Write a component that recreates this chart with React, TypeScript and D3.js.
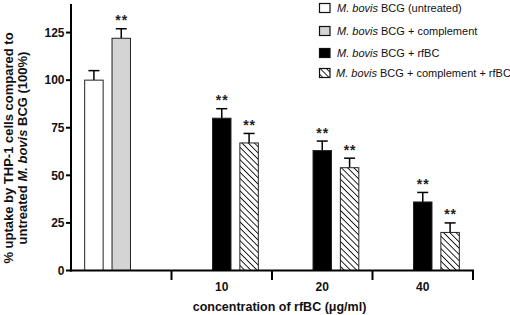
import React from "react";
import * as d3 from "d3";

const categories = ["", "10", "20", "40"];
const untreatedMean = [100, null, null, null];
const complementMean = [122, null, null, null];
const rfbcMean = [null, 80, 63, 36];
const compRfbcMean = [null, 67, 54, 20];
const untreatedErr = [5, null, null, null];
const complementErr = [5, null, null, null];
const rfbcErr = [null, 5, 5, 5];
const compRfbcErr = [null, 5, 5, 5];
const untreatedSig = ["", "", "", ""];
const complementSig = ["**", "", "", ""];
const rfbcSig = ["", "**", "**", "**"];
const compRfbcSig = ["", "**", "**", "**"];
const yTicks = [0, 25, 50, 75, 100, 125];
const legendLabels = ["BCG (untreated)", "BCG + complement", "BCG + rfBC", "BCG + complement + rfBC"];

const W = 510, H = 315;
const FONT = "'Liberation Sans', Arial, Helvetica, sans-serif";

type Series = { key: string; mean: (number | null)[]; err: (number | null)[]; sig: string[]; slot: string; fill: string };

const series: Series[] = [
  { key: "untreated", mean: untreatedMean, err: untreatedErr, sig: untreatedSig, slot: "a", fill: "#ffffff" },
  { key: "complement", mean: complementMean, err: complementErr, sig: complementSig, slot: "b", fill: "#d4d4d4" },
  { key: "rfbc", mean: rfbcMean, err: rfbcErr, sig: rfbcSig, slot: "b", fill: "#000000" },
  { key: "comprfbc", mean: compRfbcMean, err: compRfbcErr, sig: compRfbcSig, slot: "c", fill: "url(#hatch)" },
];

export default function App() {
  const x = d3.scaleBand<string>().domain(categories).range([71, 473]).paddingInner(0).paddingOuter(0);
  const inner = d3.scaleBand<string>().domain(["a", "b", "c"]).range([0, x.bandwidth()]).paddingInner(0.325).paddingOuter(0.5).align(0.5);
  const y = d3.scaleLinear().domain([0, 140]).range([270.5, 4]);
  const bw = inner.bandwidth();
  const boundaries = categories.map((c) => (x(c) as number) + x.bandwidth());

  const legendY = [8, 31, 53, 73];

  return (
    <svg width={W} height={H} style={{ position: "absolute", left: 0, top: 0 }} fontFamily={FONT}>
      <defs>
        <pattern id="hatch" patternUnits="userSpaceOnUse" width="4.4" height="4.4" patternTransform="rotate(45)">
          <rect width="4.4" height="4.4" fill="#fff" />
          <line x1="0" y1="0" x2="4.4" y2="0" stroke="#000" strokeWidth="1.7" />
        </pattern>
      </defs>
      <rect width={W} height={H} fill="#fff" />

      {/* bars */}
      {series.map((s) =>
        categories.map((c, i) => {
          const v = s.mean[i];
          if (v == null) return null;
          const x0 = (x(c) as number) + (inner(s.slot) as number);
          const e = s.err[i] as number;
          const cx = x0 + bw / 2;
          return (
            <g key={s.key + i}>
              <line x1={cx} x2={cx} y1={y(v)} y2={y(v + e)} stroke="#000" strokeWidth={1.5} />
              <line x1={cx - 5.5} x2={cx + 5.5} y1={y(v + e)} y2={y(v + e)} stroke="#000" strokeWidth={1.5} />
              <rect x={x0} y={y(v)} width={bw} height={y(0) - y(v)} fill={s.fill} stroke="#222" strokeWidth={1} />
              {s.sig[i] ? (
                <text x={cx + 0.5} y={y(v + e) - 3.5} textAnchor="middle" fontSize={14} fontWeight="bold" letterSpacing={1} fill="#222">
                  {s.sig[i]}
                </text>
              ) : null}
            </g>
          );
        })
      )}

      {/* y axis */}
      <line x1={71} x2={71} y1={y(140)} y2={y(0) + 1} stroke="#000" strokeWidth={2} />
      {yTicks.map((t) => (
        <g key={t}>
          <line x1={66} x2={71} y1={y(t)} y2={y(t)} stroke="#000" strokeWidth={2} />
          <text x={64.5} y={y(t)} dy="0.36em" textAnchor="end" fontSize={12} fontWeight="bold" fill="#111">
            {t}
          </text>
        </g>
      ))}

      {/* x axis */}
      <line x1={70} x2={474} y1={y(0)} y2={y(0)} stroke="#000" strokeWidth={2} />
      {boundaries.map((b, i) => (
        <line key={i} x1={b} x2={b} y1={y(0)} y2={y(0) + 9.5} stroke="#000" strokeWidth={2} />
      ))}
      {categories.map((c) => (
        <text key={c} x={(x(c) as number) + x.bandwidth() / 2} y={291} textAnchor="middle" fontSize={12} fontWeight="bold" fill="#111">
          {c}
        </text>
      ))}
      <text x={279.5} y={311} textAnchor="middle" fontSize={12.5} fontWeight="bold" fill="#111">
        concentration of rfBC (μg/ml)
      </text>

      {/* y label */}
      <g transform="translate(12.5,148) rotate(-90)">
        <text x={0} y={0} textAnchor="middle" fontSize={13} fontWeight="bold" fill="#111">
          % uptake by THP-1 cells compared to
        </text>
        <text x={0} y={14} textAnchor="middle" fontSize={13} fontWeight="bold" fill="#111">
          untreated <tspan fontStyle="italic">M. bovis</tspan> BCG (100%)
        </text>
      </g>

      {/* legend */}
      {series.map((s, i) => (
        <g key={s.key} transform={`translate(319,${legendY[i]})`}>
          <rect x={0.5} y={-4.5} width={10.5} height={9} fill={s.fill} stroke="#111" strokeWidth={1.2} />
          <text x={i === 3 ? 17 : 18} y={0} dy="0.36em" fontSize={11} fill="#111">
            <tspan fontStyle="italic">M. bovis</tspan> {legendLabels[i]}
          </text>
        </g>
      ))}
    </svg>
  );
}
